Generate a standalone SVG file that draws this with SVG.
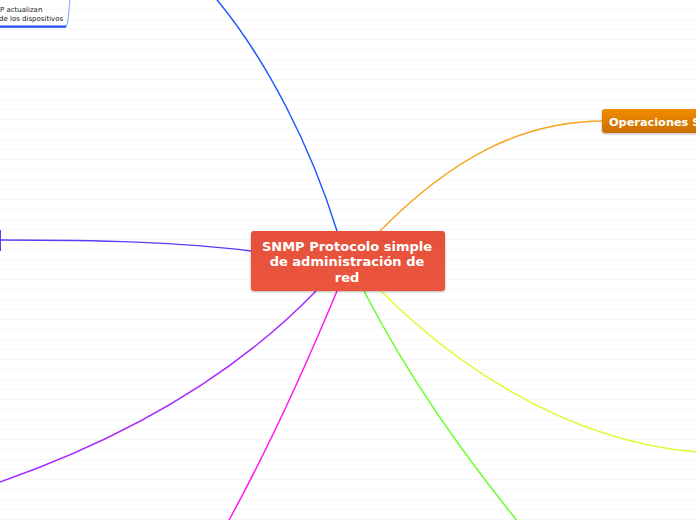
<svg xmlns="http://www.w3.org/2000/svg" width="696" height="520" viewBox="0 0 696 520">
<defs>
<pattern id="lines" width="696" height="10" patternUnits="userSpaceOnUse">
<rect width="696" height="10" fill="#ffffff"/>
<rect y="9" width="696" height="1" fill="#f7f7f7"/>
</pattern>
<linearGradient id="gc" x1="0" y1="0" x2="0" y2="1">
<stop offset="0" stop-color="#e4503a"/>
<stop offset="1" stop-color="#ec553d"/>
</linearGradient>
<linearGradient id="go" x1="0" y1="0" x2="0" y2="1">
<stop offset="0" stop-color="#f28c00"/>
<stop offset="1" stop-color="#c86f00"/>
</linearGradient>
<filter id="sh" x="-10%" y="-20%" width="120%" height="150%">
<feDropShadow dx="0" dy="1" stdDeviation="1" flood-color="#000" flood-opacity="0.3"/>
</filter>
</defs>
<style>
.c{fill:none;stroke-width:1.5}
.t{font-family:"DejaVu Sans","Liberation Sans",sans-serif;font-weight:bold;fill:#ffffff}
.s{font-family:"DejaVu Sans","Liberation Sans",sans-serif;fill:#222222;font-size:7px}
</style>
<rect width="696" height="520" fill="url(#lines)"/>
<g id="connectors">
<path class="c" stroke="#2458ff" d="M337,231 C312,150 268,60 213,-5"/>
<path class="c" stroke="#f5a623" stroke-width="1.2" d="M380,231 C450,160 520,121 604,121"/>
<path class="c" stroke="#5a3cf5" d="M251,251 C180,242 100,240 0,240"/>
<path class="c" stroke="#a92cff" d="M316,291 C230,380 120,440 0,482"/>
<path class="c" stroke="#ff1cf0" stroke-width="2" d="M337,291 C300,380 262,460 228,522"/>
<path class="c" stroke="#66ff22" stroke-width="2" d="M364,291 C410,380 462,452 518,522"/>
<path class="c" stroke="#d8ff33" d="M381,291 C450,360 560,440 696,452"/>
</g>
<g id="node-top-left">
<path d="M-2,27 L66,27 C69,20 69,8 70,-2" fill="none" stroke="#7da2ff" stroke-width="1"/>
<rect x="-2" y="25.5" width="68" height="2.2" fill="#1f4fff"/>
<text class="s" x="0" y="12">P actualizan</text>
<text class="s" x="-1" y="20.5">de los dispositivos</text>
</g>
<g id="node-left">
<rect x="-2" y="230" width="3" height="21" fill="#5a3cf5"/>
</g>
<g id="node-center">
<rect x="251" y="231" width="194" height="60" rx="3" fill="url(#gc)" filter="url(#sh)"/>
<text class="t" font-size="13" text-anchor="middle" x="347" y="251">SNMP Protocolo simple</text>
<text class="t" font-size="13" text-anchor="middle" x="347" y="266">de administración de</text>
<text class="t" font-size="13" text-anchor="middle" x="347" y="282">red</text>
</g>
<g id="node-operaciones">
<rect x="602" y="109" width="110" height="24" rx="3" fill="url(#go)" filter="url(#sh)"/>
<text class="t" font-size="11.3" x="609" y="126">Operaciones S</text>
</g>
</svg>
